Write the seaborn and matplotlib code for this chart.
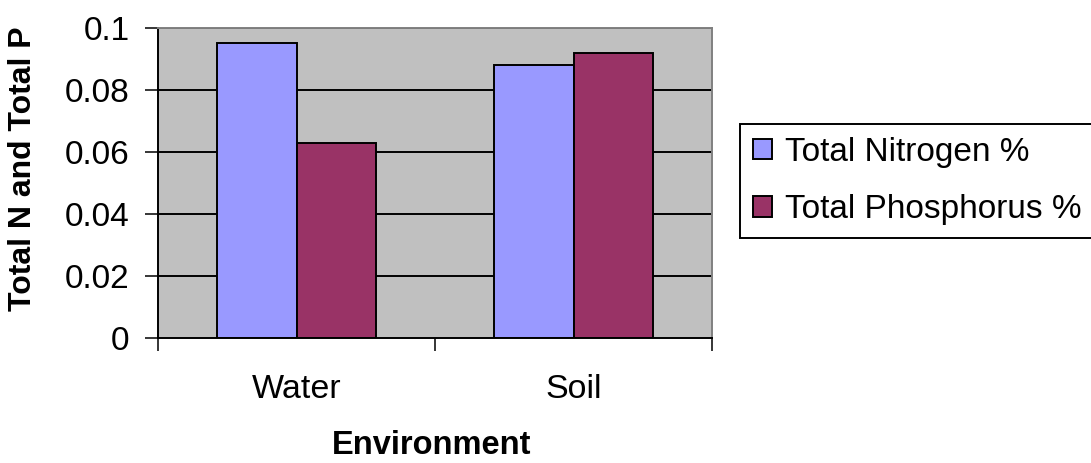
import pandas as pd
import numpy as np
import matplotlib
matplotlib.use("Agg")
import matplotlib.pyplot as plt
import seaborn as sns

# values
environments = ["Water", "Soil"]
series_names = ["Total Nitrogen %", "Total Phosphorus %"]
nitrogen = [0.095, 0.088]
phosphorus = [0.063, 0.092]
y_ticks = [0, 0.02, 0.04, 0.06, 0.08, 0.1]
y_tick_labels = ["0", "0.02", "0.04", "0.06", "0.08", "0.1"]

colors = ["#9999FF", "#993366"]

df = pd.DataFrame({
    "Environment": environments * 2,
    "series": [series_names[0]] * 2 + [series_names[1]] * 2,
    "value": nitrogen + phosphorus,
})

sns.set_style("white")
plt.rcParams["font.family"] = ["Liberation Sans", "DejaVu Sans"]
plt.rcParams["text.color"] = "black"
plt.rcParams["axes.labelcolor"] = "black"
plt.rcParams["xtick.color"] = "black"
plt.rcParams["ytick.color"] = "black"

fig = plt.figure(figsize=(10.91, 4.63), dpi=100)
ax = fig.add_axes([158 / 1091, 1 - 338 / 463, 554 / 1091, 310 / 463])
ax.set_facecolor("#C0C0C0")

# gridlines under bars
for y in y_ticks[1:]:
    ax.axhline(y, color="black", lw=1.4, zorder=0)

sns.barplot(data=df, x="Environment", y="value", hue="series",
            hue_order=series_names, order=environments,
            palette=colors, width=0.577, gap=0,
            edgecolor="black", linewidth=1.4, saturation=1,
            ax=ax, zorder=2)

ax.set_xlim(-0.5, 1.5)
ax.set_ylim(0, 0.1)
ax.set_yticks(y_ticks)
ax.set_yticklabels(y_tick_labels)
ax.tick_params(axis="y", labelsize=24, length=9.4, width=1.1, pad=11,
               left=True, direction="out", color="black", labelcolor="black")

# category labels on minor ticks, major ticks on boundaries
ax.set_xticks([-0.5, 0.5, 1.5])
ax.set_xticklabels([])
ax.set_xticks([0, 1], minor=True)
ax.set_xticklabels(environments, minor=True)
ax.tick_params(axis="x", which="major", length=9, width=1.1, bottom=True,
               direction="out", color="black")
ax.tick_params(axis="x", which="minor", length=0, labelsize=24.5, pad=26,
               labelcolor="black")

for s in ["left", "bottom"]:
    ax.spines[s].set_color("black")
    ax.spines[s].set_linewidth(1.4)
for s in ["top", "right"]:
    ax.spines[s].set_color("#808080")
    ax.spines[s].set_linewidth(1.4)

ax.set_xlabel("Environment", fontsize=23.5, fontweight="bold")
ax.xaxis.label.set_va("center")
ax.xaxis.set_label_coords((432 - 158) / 554, (338 - 446) / 310)
ax.set_ylabel("Total N and Total P", fontsize=23, fontweight="bold")
ax.yaxis.label.set_va("center")
ax.yaxis.set_label_coords((23 - 158) / 554, (338 - 169) / 310)

ax.legend(loc="upper left", bbox_to_anchor=(740 / 1091, 1 - 124 / 463),
          bbox_transform=fig.transFigure, fontsize=24, frameon=True,
          fancybox=False, edgecolor="black", framealpha=1,
          handlelength=0.58, handleheight=0.58, handletextpad=0.4,
          labelspacing=0.8, borderpad=0.38, borderaxespad=0)
ax.get_legend().get_frame().set_linewidth(1.4)

fig.savefig("out.png", dpi=100)
